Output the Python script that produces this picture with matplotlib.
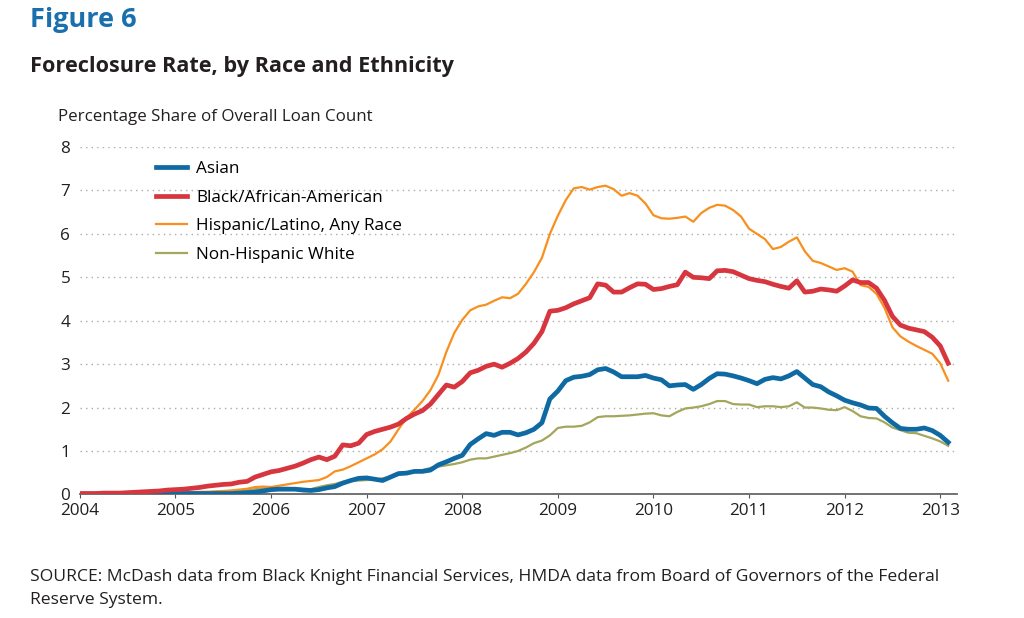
import numpy as np
import matplotlib.pyplot as plt

plt.rcParams['font.family'] = ['Open Sans', 'DejaVu Sans']

# Monthly values, Jan 2004 .. Feb 2013 (percent of overall loan count)
start_year = 2004
asian = [
    0.01, 0.01, 0.01, 0.01, 0.01, 0.02, 0.02, 0.02, 0.02, 0.02, 0.02, 0.02,
    0.02, 0.02, 0.02, 0.02, 0.02, 0.02, 0.02, 0.02, 0.03, 0.04, 0.05, 0.08,
    0.11, 0.12, 0.12, 0.12, 0.10, 0.09, 0.11, 0.15, 0.18, 0.26, 0.32, 0.37,
    0.38, 0.35, 0.32, 0.40, 0.48, 0.49, 0.53, 0.53, 0.56, 0.68, 0.75, 0.83,
    0.90, 1.15, 1.28, 1.40, 1.36, 1.43, 1.43, 1.37, 1.42, 1.50, 1.65, 2.20,
    2.38, 2.62, 2.70, 2.72, 2.76, 2.87, 2.90, 2.82, 2.71, 2.71, 2.71, 2.74,
    2.68, 2.64, 2.50, 2.52, 2.53, 2.42, 2.53, 2.67, 2.78, 2.77, 2.73, 2.68,
    2.62, 2.55, 2.65, 2.69, 2.66, 2.73, 2.83, 2.68, 2.53, 2.48, 2.36, 2.27,
    2.17, 2.11, 2.06, 1.99, 1.98, 1.80, 1.65, 1.52, 1.50, 1.50, 1.53, 1.47,
    1.36, 1.20,
]
black = [
    0.02, 0.02, 0.02, 0.03, 0.03, 0.03, 0.04, 0.05, 0.06, 0.07, 0.08, 0.10,
    0.11, 0.12, 0.14, 0.16, 0.19, 0.21, 0.23, 0.24, 0.28, 0.30, 0.40, 0.46,
    0.52, 0.55, 0.60, 0.65, 0.72, 0.80, 0.86, 0.80, 0.88, 1.14, 1.12, 1.18,
    1.38, 1.45, 1.50, 1.55, 1.62, 1.75, 1.85, 1.93, 2.08, 2.30, 2.52, 2.47,
    2.60, 2.80, 2.86, 2.95, 3.00, 2.93, 3.02, 3.13, 3.28, 3.48, 3.75, 4.22,
    4.24, 4.30, 4.39, 4.46, 4.53, 4.85, 4.82, 4.66, 4.66, 4.76, 4.85, 4.84,
    4.72, 4.74, 4.79, 4.83, 5.12, 5.00, 4.99, 4.97, 5.15, 5.16, 5.13, 5.05,
    4.97, 4.93, 4.90, 4.84, 4.79, 4.75, 4.92, 4.66, 4.68, 4.73, 4.71, 4.68,
    4.80, 4.94, 4.88, 4.88, 4.75, 4.47, 4.10, 3.90, 3.83, 3.79, 3.75, 3.62,
    3.42, 3.02,
]
hispanic = [
    0.01, 0.01, 0.01, 0.01, 0.02, 0.02, 0.02, 0.02, 0.03, 0.03, 0.03, 0.04,
    0.04, 0.05, 0.05, 0.06, 0.06, 0.07, 0.08, 0.09, 0.11, 0.13, 0.17, 0.18,
    0.17, 0.20, 0.23, 0.26, 0.29, 0.31, 0.33, 0.40, 0.53, 0.57, 0.65, 0.74,
    0.83, 0.92, 1.04, 1.22, 1.50, 1.76, 1.95, 2.15, 2.40, 2.75, 3.28, 3.72,
    4.02, 4.24, 4.33, 4.37, 4.46, 4.54, 4.52, 4.62, 4.85, 5.12, 5.45, 6.00,
    6.42, 6.78, 7.05, 7.08, 7.02, 7.08, 7.11, 7.03, 6.88, 6.94, 6.88, 6.70,
    6.43, 6.36, 6.35, 6.37, 6.40, 6.28, 6.48, 6.60, 6.67, 6.65, 6.55, 6.40,
    6.12, 6.00, 5.88, 5.65, 5.70, 5.82, 5.92, 5.60, 5.38, 5.33, 5.25, 5.17,
    5.21, 5.13, 4.82, 4.78, 4.62, 4.30, 3.85, 3.64, 3.52, 3.42, 3.33, 3.24,
    3.02, 2.62,
]
white = [
    0.02, 0.02, 0.02, 0.02, 0.02, 0.02, 0.02, 0.03, 0.03, 0.03, 0.03, 0.03,
    0.04, 0.04, 0.04, 0.05, 0.05, 0.06, 0.07, 0.08, 0.09, 0.10, 0.12, 0.14,
    0.16, 0.15, 0.15, 0.14, 0.13, 0.12, 0.17, 0.21, 0.24, 0.29, 0.31, 0.32,
    0.33, 0.34, 0.37, 0.41, 0.45, 0.48, 0.52, 0.56, 0.61, 0.64, 0.67, 0.70,
    0.74, 0.80, 0.83, 0.83, 0.87, 0.91, 0.95, 1.00, 1.08, 1.18, 1.24, 1.36,
    1.53, 1.56, 1.56, 1.58, 1.66, 1.78, 1.80, 1.80, 1.81, 1.82, 1.84, 1.86,
    1.87, 1.82, 1.80, 1.90, 1.98, 2.00, 2.03, 2.08, 2.15, 2.15, 2.08, 2.07,
    2.07, 2.01, 2.03, 2.03, 2.01, 2.03, 2.12, 2.00, 2.00, 1.98, 1.95, 1.94,
    2.01, 1.92, 1.80, 1.76, 1.75, 1.66, 1.54, 1.48, 1.42, 1.41, 1.35, 1.29,
    1.22, 1.12,
]
year_ticks = list(range(2004, 2014))
y_ticks = list(range(0, 9))

months = start_year + np.arange(len(asian)) / 12.0

fig = plt.figure(figsize=(10.24, 6.18), dpi=100)
ax = fig.add_axes([0.078, 0.2, 0.857, 0.562])

ax.plot(months, white, color='#a3a65b', lw=1.6, label='Non-Hispanic White', zorder=3)
ax.plot(months, hispanic, color='#f7901e', lw=1.6, label='Hispanic/Latino, Any Race', zorder=4)
ax.plot(months, asian, color='#0f6aa4', lw=3.4, label='Asian', zorder=5)
ax.plot(months, black, color='#d7363f', lw=3.4, label='Black/African-American', zorder=6)

ax.set_xlim(2004, 2013.18)
ax.set_ylim(0, 8)
ax.set_xticks(year_ticks)
ax.set_yticks(y_ticks)
ax.tick_params(axis='x', length=3, color='#555555', labelsize=12.3, pad=3)
ax.tick_params(axis='y', length=0, labelsize=12.3, pad=7)
for lbl in ax.get_xticklabels() + ax.get_yticklabels():
    lbl.set_color('#231f20')

for s in ['top', 'right', 'left']:
    ax.spines[s].set_visible(False)
ax.spines['bottom'].set_color('#666666')
ax.spines['bottom'].set_linewidth(1.3)
ax.grid(axis='y', linestyle=(0, (1, 3)), color='#aaaaaa', lw=1)
ax.set_axisbelow(True)

handles, labels = ax.get_legend_handles_labels()
order = [2, 3, 1, 0]
ax.legend([handles[i] for i in order], [labels[i] for i in order],
          loc='upper left', bbox_to_anchor=(0.069, 1.004), frameon=False,
          fontsize=12.3, handlelength=1.85, labelspacing=0.74, handletextpad=0.5)

fig.text(0.029, 0.967, 'Figure 6', fontsize=19.5, fontweight='bold', color='#1a6fad', va='center')
fig.text(0.029, 0.893, 'Foreclosure Rate, by Race and Ethnicity', fontsize=15.6,
         fontweight='bold', color='#231f20', va='center')
fig.text(0.057, 0.81, 'Percentage Share of Overall Loan Count', fontsize=12.2,
         color='#231f20', va='center')
fig.text(0.029, 0.048, 'SOURCE: McDash data from Black Knight Financial Services, HMDA data from Board of Governors of the Federal\nReserve System.',
         fontsize=12.6, color='#231f20', va='center', linespacing=1.55)

fig.savefig('out.png', dpi=100)
